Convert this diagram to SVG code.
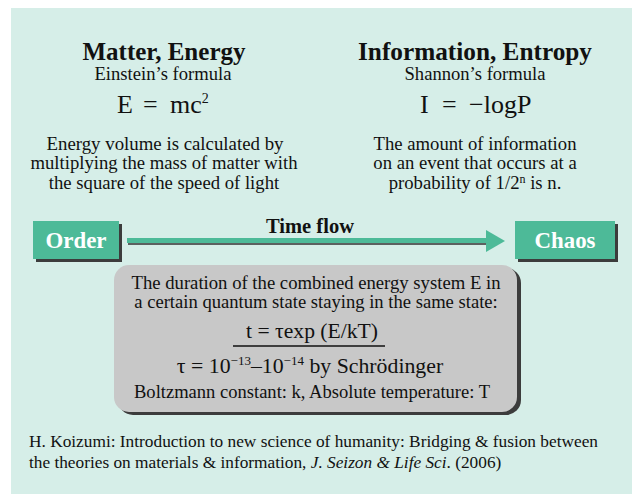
<svg xmlns="http://www.w3.org/2000/svg" width="632" height="494" viewBox="0 0 632 494">
<defs>
<style>
text{font-family:"Liberation Serif","Times New Roman",serif;fill:#111;}
.h{font-size:25px;font-weight:bold;text-anchor:middle;}
.s{font-size:18px;text-anchor:middle;}
.f{font-size:26px;}
.d{font-size:18.7px;text-anchor:middle;}
.g{font-size:18.6px;text-anchor:middle;}
.btn{fill:#4dba98;}
.bt{font-size:23px;font-weight:bold;fill:#fff;text-anchor:middle;}
.sh{fill:#3c3c3c;}
.c{font-size:17.3px;}
</style>
</defs>
<rect x="0" y="0" width="632" height="494" fill="#ffffff"/>
<rect x="11" y="8" width="621" height="486" fill="#d6eee8"/>

<g id="matter">
<text class="h" x="164" y="60" textLength="163" lengthAdjust="spacingAndGlyphs">Matter, Energy</text>
<text class="s" x="163" y="80" textLength="137" lengthAdjust="spacingAndGlyphs">Einstein’s formula</text>
<text class="f" y="113"><tspan x="117">E</tspan><tspan x="143">=</tspan><tspan x="170">mc</tspan><tspan font-size="14" dy="-10">2</tspan></text>
<text class="d" x="165" y="150" textLength="237" lengthAdjust="spacingAndGlyphs">Energy volume is calculated by</text>
<text class="d" x="164" y="169" textLength="267" lengthAdjust="spacingAndGlyphs">multiplying the mass of matter with</text>
<text class="d" x="164" y="189">the square of the speed of light</text>
</g>

<g id="information">
<text class="h" x="475" y="60" textLength="234" lengthAdjust="spacingAndGlyphs">Information, Entropy</text>
<text class="s" x="475" y="80" textLength="141" lengthAdjust="spacingAndGlyphs">Shannon’s formula</text>
<text class="f" y="113"><tspan x="420">I</tspan><tspan x="442">=</tspan><tspan x="469">−logP</tspan></text>
<text class="d" x="475" y="150" textLength="203" lengthAdjust="spacingAndGlyphs">The amount of information</text>
<text class="d" x="475" y="169">on an event that occurs at a</text>
<text class="d" x="475" y="189">probability of 1/2<tspan font-size="12" dy="-6">n</tspan><tspan dy="6"> is n.</tspan></text>
</g>

<g id="order">
<rect class="sh" x="36" y="224" width="86" height="38"/>
<rect class="btn" x="33" y="221" width="86" height="38"/>
<text class="bt" x="76" y="248" textLength="61" lengthAdjust="spacingAndGlyphs">Order</text>
</g>

<g id="chaos">
<rect class="sh" x="518" y="224" width="100" height="38"/>
<rect class="btn" x="515" y="221" width="100" height="38"/>
<text class="bt" x="565" y="248" textLength="61" lengthAdjust="spacingAndGlyphs">Chaos</text>
</g>

<g id="connectors">
<rect x="128" y="240" width="360" height="5" fill="#3c3c3c" opacity="0.8"/>
<rect x="127" y="238" width="360" height="5" fill="#4dba98"/>
<polygon points="486,230 505,241 486,252" fill="#4dba98"/>
<text x="310" y="233" textLength="88" lengthAdjust="spacingAndGlyphs" style="font-size:20.5px;font-weight:bold;text-anchor:middle;">Time flow</text>
</g>

<g id="duration">
<rect x="118" y="268" width="403" height="147" rx="15" fill="#3c3c3c"/>
<rect x="114" y="265" width="403" height="147" rx="15" fill="#c8c8c8"/>
<text class="g" x="316" y="289" textLength="369" lengthAdjust="spacingAndGlyphs">The duration of the combined energy system E in</text>
<text class="g" x="316" y="308">a certain quantum state staying in the same state:</text>
<text x="312" y="338" textLength="132" lengthAdjust="spacingAndGlyphs" style="font-size:21.5px;text-anchor:middle;">t  = τexp (E/kT)</text>
<line x1="233" y1="346" x2="385" y2="346" stroke="#111" stroke-width="1.3"/>
<text x="310" y="373" style="font-size:21.8px;text-anchor:middle;">τ =  10<tspan font-size="13" dy="-8">−13</tspan><tspan dy="8">–10</tspan><tspan font-size="13" dy="-8">−14</tspan><tspan dy="8"> by Schrödinger</tspan></text>
<text class="g" x="312" y="398" textLength="356" lengthAdjust="spacingAndGlyphs">Boltzmann constant: k, Absolute temperature: T</text>
</g>

<g id="citation">
<text class="c" x="29" y="447" textLength="569" lengthAdjust="spacingAndGlyphs">H. Koizumi: Introduction to new science of humanity: Bridging &amp; fusion between</text>
<text class="c" x="29" y="468">the theories on materials &amp; information, <tspan font-style="italic">J. Seizon &amp; Life Sci</tspan>. (2006)</text>
</g>
</svg>
